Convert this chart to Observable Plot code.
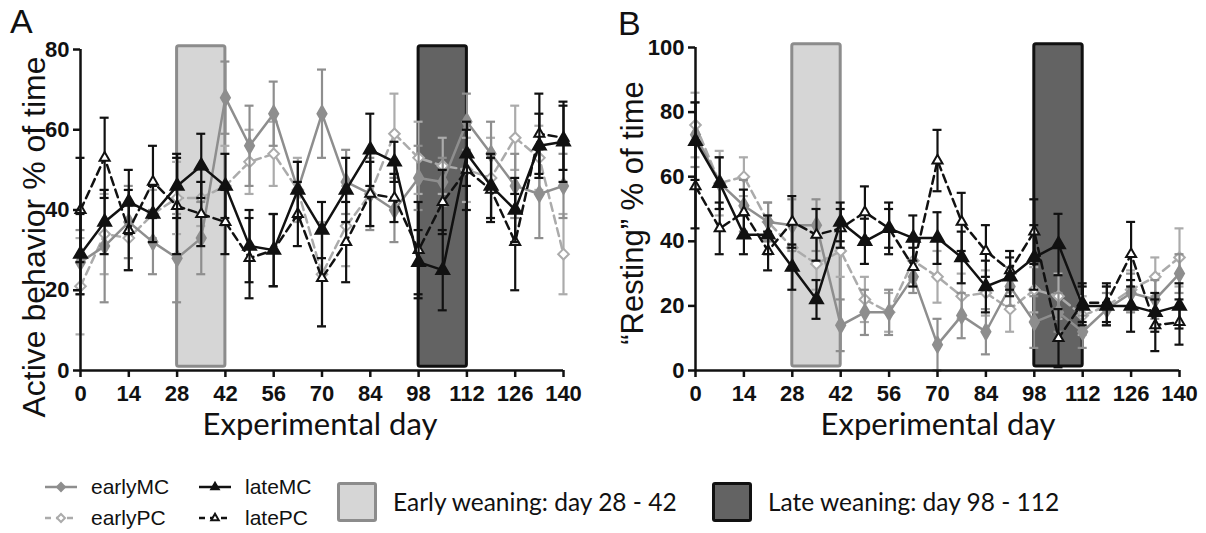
<!DOCTYPE html>
<html><head><meta charset="utf-8">
<script src="https://cdn.jsdelivr.net/npm/d3@7"></script>
<script src="https://cdn.jsdelivr.net/npm/@observablehq/plot@0.6"></script>
<style>
body{margin:0;background:#fff;}
#wrap{position:relative;width:1206px;height:533px;overflow:hidden;background:#fff;font-family:"Liberation Sans",Arial,sans-serif;color:#111;}
.abs{position:absolute;white-space:nowrap;}
.rot{transform:translate(-50%,-50%) rotate(-90deg);}
.ctr{transform:translate(-50%,-50%);}
.vc{transform:translateY(-50%);}
</style></head><body><div id="wrap"></div>
<script>
// ---------- data ----------
const days = [0,7,14,21,28,35,42,49,56,63,70,77,84,91,98,105,112,119,126,133,140];
const xTicks = [0,14,28,42,56,70,84,98,112,126,140];
const aTicks = [0,20,40,60,80];
const bTicks = [0,20,40,60,80,100];
const seriesNames = ["earlyMC","earlyPC","lateMC","latePC"];
const weaningLabels = ["Early weaning: day 28 - 42","Late weaning: day 98 - 112"];
const weaningStart = [28, 98];
const weaningEnd = [42, 112];

// Panel A: Active behavior % of time (mean, error)
const aEarlyMC    = [27,31,37,32,28,33,68,56,64,45,64,47,44,40,48,47,62,54,46,44,46];
const aEarlyMCErr = [8,14,9,8,11,9,9,10,8,7,11,8,9,8,8,6,7,8,8,11,8];
const aEarlyPC    = [21,34,33,39,43,43,46,52,54,45,24,36,44,59,53,51,50,48,58,53,29];
const aEarlyPCErr = [12,10,8,6,9,7,10,8,8,8,13,10,8,10,9,7,8,10,8,8,10];
const aLateMC     = [29,37,42,39,46,51,46,31,30,45,35,45,55,52,27,25,54,46,40,56,57];
const aLateMCErr  = [10,8,8,7,8,8,8,9,9,7,7,8,9,5,8,10,8,8,8,8,10];
const aLatePC     = [40,53,35,47,41,39,37,28,30,39,23,32,44,43,30,42,50,45,32,59,58];
const aLatePCErr  = [13,10,10,9,12,8,8,10,9,8,12,10,8,6,12,8,10,8,12,10,8];

// Panel B: "Resting" % of time (mean, error)
const bEarlyMC    = [73,58,51,46,45,45,14,18,18,29,8,17,12,26,15,18,12,19,24,22,30];
const bEarlyMCErr = [10,8,8,6,8,8,8,7,7,5,8,7,7,6,8,6,5,5,6,6,6];
const bEarlyPC    = [76,58,60,46,38,33,37,22,18,34,29,23,24,19,25,23,17,20,25,29,35];
const bEarlyPCErr = [10,10,6,6,7,8,8,7,6,6,8,7,7,7,7,7,6,6,6,6,9];
const bLateMC     = [71,58,42,42,32,22,46,40,44,41,41,35,26,29,35,39,20,20,20,18,20];
const bLateMCErr  = [12,8,6,6,7,6,6,7,8,7,8,8,8,6,10,9.5,6,6,8,6,7];
const bLatePC     = [57,44,49,37,46,42,44,49,44,32,65,46,37,31,43,10,21,21,36,14,15];
const bLatePCErr  = [13,8,7,6,8,8,6,8,6,6,9.5,9,8,6,10,9,6,6,10,8,7];

// ---------- styles ----------
const styles = {
  earlyMC: {color:"#8e8e8e", dashed:false, symbol:"diamond",   fill:"#8e8e8e"},
  earlyPC: {color:"#ababab", dashed:true,  symbol:"diamond2",  fill:"#fff"},
  lateMC:  {color:"#111111", dashed:false, symbol:"triangle",  fill:"#111"},
  latePC:  {color:"#111111", dashed:true,  symbol:"triangle2", fill:"#fff"}
};
const weaningStyle = [{fill:"#d6d6d6", stroke:"#8c8c8c"},{fill:"#636363", stroke:"#111"}];
const TICK_FONT = 22;

function rowsOf(vals, errs){ return days.map((d,i)=>({day:d, v:vals[i], e:errs[i]})); }

function panel(seriesData, yMax, yTicks, opts){
  const weaning = weaningStart.map((s,i)=>({x1:s, x2:weaningEnd[i], y1:yMax*0.012, y2:yMax*1.01, ...weaningStyle[i]}));
  const marks = [
    Plot.rect(weaning, {x1:"x1", x2:"x2", y1:"y1", y2:"y2", fill:d=>d.fill, stroke:d=>d.stroke, strokeWidth:3, rx:2}),
  ];
  const order = ["earlyPC","earlyMC","latePC","lateMC"];
  for (const name of order){
    const st = styles[name];
    const rows = seriesData[name];
    const dash = st.dashed ? "8,5" : null;
    marks.push(
      Plot.ruleX(rows, {x:"day", y1:d=>d.v-d.e, y2:d=>d.v+d.e, stroke:st.color, strokeWidth:2.2}),
      Plot.ruleY(rows, {y:d=>d.v+d.e, x1:d=>d.day-1.3, x2:d=>d.day+1.3, stroke:st.color, strokeWidth:2.2}),
      Plot.ruleY(rows, {y:d=>d.v-d.e, x1:d=>d.day-1.3, x2:d=>d.day+1.3, stroke:st.color, strokeWidth:2.2}),
      Plot.line(rows, {x:"day", y:"v", stroke:st.color, strokeWidth:2.5, strokeDasharray:dash}),
      Plot.dot(rows, {x:"day", y:"v", symbol:st.symbol, r:4.8, fill:st.fill, stroke:st.color, strokeWidth:2})
    );
  }
  marks.push(
    Plot.ruleY([0], {stroke:"#111", strokeWidth:2.5}),
    Plot.ruleX([0], {stroke:"#111", strokeWidth:2.5}),
    Plot.axisX({ticks:xTicks, tickSize:7, tickPadding:8, strokeWidth:2.5, label:null, fontSize:TICK_FONT, fontWeight:"bold"}),
    Plot.axisY({ticks:yTicks, tickSize:7, tickPadding:4, strokeWidth:2.5, label:null, fontSize:TICK_FONT, fontWeight:"bold"})
  );
  const svg = Plot.plot({
    width: opts.width, height: 440,
    marginLeft: opts.marginLeft, marginRight: opts.marginRight, marginTop: opts.marginTop, marginBottom: 70,
    x: {domain:[0,140]}, y: {domain:[0,yMax]},
    style: {fontFamily:"'Liberation Sans', Arial, sans-serif", fontSize:TICK_FONT+"px", fontWeight:"bold", background:"transparent", overflow:"visible", color:"#111"},
    marks
  });
  d3.select(svg).selectAll("text")
    .attr("font-size", TICK_FONT).attr("font-weight", "bold")
    .style("font-size", TICK_FONT + "px").style("font-weight", "bold")
    .style("font-family", "'Liberation Sans', Arial, sans-serif");
  return svg;
}

const wrap = document.getElementById("wrap");
const dataA = {
  earlyMC: rowsOf(aEarlyMC, aEarlyMCErr), earlyPC: rowsOf(aEarlyPC, aEarlyPCErr),
  lateMC: rowsOf(aLateMC, aLateMCErr), latePC: rowsOf(aLatePC, aLatePCErr)
};
const dataB = {
  earlyMC: rowsOf(bEarlyMC, bEarlyMCErr), earlyPC: rowsOf(bEarlyPC, bEarlyPCErr),
  lateMC: rowsOf(bLateMC, bLateMCErr), latePC: rowsOf(bLatePC, bLatePCErr)
};
const svgA = panel(dataA, 80, aTicks, {width:600, marginLeft:80, marginRight:37, marginTop:49});
svgA.style.position = "absolute"; svgA.style.left = "0px"; svgA.style.top = "0px";
wrap.appendChild(svgA);
const svgB = panel(dataB, 100, bTicks, {width:606, marginLeft:95, marginRight:27, marginTop:47});
svgB.style.position = "absolute"; svgB.style.left = "600px"; svgB.style.top = "0px";
wrap.appendChild(svgB);

function addText(txt, x, y, cls, css){
  const d = document.createElement("div");
  d.className = "abs " + cls; d.textContent = txt;
  d.style.left = x + "px"; d.style.top = y + "px";
  Object.assign(d.style, css || {});
  wrap.appendChild(d);
  return d;
}
// panel letters
addText("A", 10, 2, "", {fontSize:"34px"});
addText("B", 618, 4, "", {fontSize:"34px"});
// axis titles
addText("Active behavior % of time", 34, 237, "rot", {fontSize:"32px"});
addText("\u201CResting\u201D % of time", 633, 213, "rot", {fontSize:"31px"});
addText("Experimental day", 320, 423, "ctr", {fontSize:"31px", fontFamily:"Lato, sans-serif"});
addText("Experimental day", 938, 423, "ctr", {fontSize:"31px", fontFamily:"Lato, sans-serif"});

// legend: series
const NS = "http://www.w3.org/2000/svg";
function swatch(name, x, y){
  const st = styles[name];
  const s = document.createElementNS(NS, "svg");
  s.setAttribute("width", 34); s.setAttribute("height", 20);
  s.style.position = "absolute"; s.style.left = x + "px"; s.style.top = (y - 10) + "px";
  const l = document.createElementNS(NS, "line");
  l.setAttribute("x1", 1); l.setAttribute("x2", 33); l.setAttribute("y1", 10); l.setAttribute("y2", 10);
  l.setAttribute("stroke", st.color); l.setAttribute("stroke-width", 2.5);
  if (st.dashed) l.setAttribute("stroke-dasharray", "6,5");
  s.appendChild(l);
  const sym = (st.symbol.startsWith("diamond") ? d3.symbolDiamond2 : d3.symbolTriangle2);
  const p = document.createElementNS(NS, "path");
  p.setAttribute("d", d3.symbol(sym, 40)());
  p.setAttribute("transform", "translate(17,10)");
  p.setAttribute("fill", st.fill); p.setAttribute("stroke", st.color); p.setAttribute("stroke-width", 2);
  s.appendChild(p);
  wrap.appendChild(s);
}
const legendPos = {earlyMC:[44,487], earlyPC:[44,518], lateMC:[198,487], latePC:[198,518]};
for (const name of seriesNames){
  const [x,y] = legendPos[name];
  swatch(name, x, y);
  addText(name, x + 47, y, "vc", {fontSize:"21px"});
}
// legend: weaning boxes
const boxPos = [[337,482],[712,482]];
weaningLabels.forEach((lab,i)=>{
  const b = document.createElement("div");
  b.className = "abs";
  Object.assign(b.style, {left:boxPos[i][0]+"px", top:boxPos[i][1]+"px", width:"40px", height:"40px",
    boxSizing:"border-box", background:weaningStyle[i].fill, border:"3px solid "+weaningStyle[i].stroke, borderRadius:"3px"});
  wrap.appendChild(b);
  addText(lab, boxPos[i][0] + 56, 501, "vc", {fontSize:"24.5px", fontFamily:"Lato, sans-serif"});
});
</script></body></html>
